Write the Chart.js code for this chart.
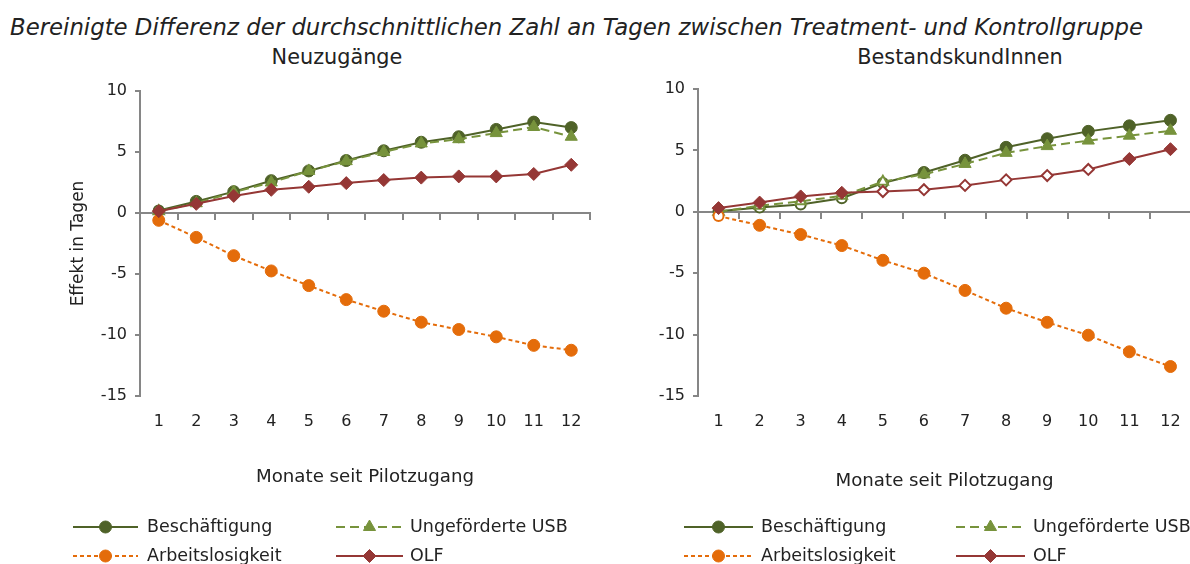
<!DOCTYPE html>
<html><head><meta charset="utf-8">
<script src="https://cdn.jsdelivr.net/npm/chart.js@4"></script>
<style>
html,body{margin:0;padding:0;background:#fff;overflow:hidden;width:1190px;height:564px;}
#wrap{position:relative;width:1190px;height:564px;overflow:hidden;}
.cv{position:absolute;top:0;width:600px;height:564px;}
#title{position:absolute;left:10px;top:14px;font-family:"DejaVu Sans";font-style:italic;font-size:22.8px;line-height:26px;color:#222;white-space:nowrap;}
.sub{position:absolute;top:45px;font-family:"DejaVu Sans";font-size:20.8px;line-height:24px;color:#222;white-space:nowrap;transform:translateX(-50%);}
</style></head><body>
<div id="wrap">
<div id="title">Bereinigte Differenz der durchschnittlichen Zahl an Tagen zwischen Treatment- und Kontrollgruppe</div>
<div class="sub" style="left:337px">Neuzugänge</div>
<div class="sub" style="left:960px">BestandskundInnen</div>
<div class="cv" style="left:0"><canvas id="c1" width="600" height="564"></canvas></div>
<div class="cv" style="left:600px"><canvas id="c2" width="600" height="564"></canvas></div>
</div>
<script>
// ---- data ----
const months = ['1','2','3','4','5','6','7','8','9','10','11','12'];
const seriesNames = ['Beschäftigung','Ungeförderte USB','Arbeitslosigkeit','OLF'];

const neuBesch = [0.2, 0.95, 1.75, 2.65, 3.45, 4.3, 5.1, 5.8, 6.25, 6.85, 7.45, 7.0];
const neuUSB   = [0.15, 0.8, 1.7, 2.5, 3.45, 4.25, 5.0, 5.7, 6.05, 6.55, 7.05, 6.25];
const neuAL    = [-0.6, -2.0, -3.5, -4.75, -5.95, -7.1, -8.05, -8.95, -9.55, -10.15, -10.85, -11.25];
const neuOLF   = [0.15, 0.75, 1.4, 1.9, 2.15, 2.45, 2.7, 2.9, 3.0, 3.0, 3.2, 3.95];
// 1 = significant (filled marker), 0 = not significant (hollow marker)
const neuBeschSig = [0,1,1,1,1,1,1,1,1,1,1,1];
const neuUSBSig   = [0,1,1,1,1,1,1,1,1,1,1,1];
const neuALSig    = [1,1,1,1,1,1,1,1,1,1,1,1];
const neuOLFSig   = [1,1,1,1,1,1,1,1,1,1,1,1];

const bestBesch = [0.05, 0.35, 0.6, 1.1, 2.35, 3.2, 4.2, 5.25, 5.95, 6.55, 7.0, 7.45];
const bestUSB   = [0.0, 0.5, 0.85, 1.3, 2.45, 3.05, 3.9, 4.8, 5.35, 5.8, 6.2, 6.6];
const bestAL    = [-0.35, -1.1, -1.85, -2.75, -3.95, -5.0, -6.4, -7.85, -9.0, -10.05, -11.4, -12.6];
const bestOLF   = [0.3, 0.75, 1.25, 1.55, 1.65, 1.8, 2.15, 2.6, 2.95, 3.45, 4.3, 5.1];
const bestBeschSig = [0,0,0,0,0,1,1,1,1,1,1,1];
const bestUSBSig   = [0,0,0,0,0,1,1,1,1,1,1,1];
const bestALSig    = [0,1,1,1,1,1,1,1,1,1,1,1];
const bestOLFSig   = [1,1,1,1,0,0,0,0,0,0,1,1];

const yTicksMin = -15, yTicksMax = 10, yStep = 5;

// ---- styles ----
const FONT = 'DejaVu Sans';
const TXT = '#222';
const AXIS = '#868686';
const COLORS = ['#4F6228', '#77933C', '#E46C0A', '#953735'];
const STYLES = ['circle', 'triangle', 'circle', 'rectRot'];
const DASHES = [[], [9,5], [4,3], []];
const RADII = [6, 7, 6, 6.5];
const ORDERS = [3, 2, 1, 0];

Chart.defaults.font.family = FONT;
Chart.defaults.color = TXT;

function mkDs(i, data, sig){
  const c = COLORS[i];
  return {
    label: seriesNames[i], data,
    borderColor: c, backgroundColor: c, borderWidth: 2, borderDash: DASHES[i],
    pointStyle: STYLES[i], pointRadius: sig.map(s => s ? RADII[i] : RADII[i]-1),
    pointHoverRadius: RADII[i],
    pointBackgroundColor: sig.map(s => s ? c : '#ffffff'),
    pointBorderColor: c, pointBorderWidth: sig.map(s => s ? 1 : 2),
    tension: 0, fill: false, order: ORDERS[i], xAxisID: 'x', yAxisID: 'y'
  };
}

function drawMarker(ctx, style, x, y, r){
  ctx.beginPath();
  if (style === 'circle') { ctx.arc(x, y, r, 0, Math.PI*2); }
  else if (style === 'triangle') {
    for (let k=0;k<3;k++){ const a = k*2*Math.PI/3; const px = x + Math.sin(a)*r, py = y - Math.cos(a)*r; k?ctx.lineTo(px,py):ctx.moveTo(px,py); }
    ctx.closePath();
  } else { ctx.moveTo(x-r,y); ctx.lineTo(x,y-r); ctx.lineTo(x+r,y); ctx.lineTo(x,y+r); ctx.closePath(); }
  ctx.fill(); ctx.stroke();
}

const legendPlugin = {
  id: 'lineLegend',
  afterDraw(chart, args, opts){
    const ctx = chart.ctx;
    ctx.save();
    chart.data.datasets.forEach((ds, i) => {
      const s = opts.slots[i];
      ctx.strokeStyle = ds.borderColor; ctx.fillStyle = ds.borderColor; ctx.lineWidth = 2;
      ctx.setLineDash(ds.borderDash || []);
      ctx.beginPath(); ctx.moveTo(s[0], s[3]); ctx.lineTo(s[1], s[3]); ctx.stroke();
      ctx.setLineDash([]); ctx.lineWidth = 1;
      drawMarker(ctx, STYLES[i], (s[0]+s[1])/2, s[3], RADII[i]);
      ctx.fillStyle = TXT; ctx.font = '17.5px "' + FONT + '"'; ctx.textBaseline = 'middle'; ctx.textAlign = 'left';
      ctx.fillText(ds.label, s[2], s[3]);
    });
    ctx.restore();
  }
};

function makeChart(id, sets, o){
  return new Chart(document.getElementById(id), {
    type: 'line',
    data: { labels: months, datasets: sets },
    plugins: [legendPlugin],
    options: {
      responsive: false, animation: false,
      layout: { padding: o.padding },
      plugins: { legend: { display: false }, tooltip: { enabled: false }, title: { display: false },
                 lineLegend: { slots: o.slots } },
      scales: {
        y: {
          position: 'left', min: yTicksMin, max: yTicksMax,
          ticks: { stepSize: yStep, font: { size: 16 }, color: TXT, padding: 8 },
          grid: { drawOnChartArea: false, drawTicks: true, tickLength: 5, color: AXIS, lineWidth: 2 },
          border: { display: true, color: AXIS, width: 2 },
          title: { display: !!o.yTitle, text: o.yTitle || '', font: { size: 17 }, color: TXT, padding: { top: 68, bottom: 0 } },
          afterFit(s){ s.width = o.yWidth; }
        },
        x: {
          type: 'category', axis: 'x', position: { y: 0 }, offset: true,
          ticks: { display: false },
          grid: { offset: true, drawOnChartArea: false, drawTicks: true, tickLength: 6, color: AXIS, lineWidth: 2 },
          border: { display: true, color: AXIS, width: 2 }
        },
        xl: {
          type: 'category', axis: 'x', position: 'bottom', offset: true,
          grid: { display: false, drawTicks: false }, border: { display: false },
          ticks: { font: { size: 16 }, color: TXT, padding: 16, maxRotation: 0, autoSkip: false },
          title: { display: true, text: 'Monate seit Pilotzugang', font: { size: 18.2 }, color: TXT, padding: { top: 0, bottom: 4 } },
          afterFit(s){ s.height = o.xHeight; }
        }
      }
    }
  });
}

makeChart('c1', [mkDs(0, neuBesch, neuBeschSig), mkDs(1, neuUSB, neuUSBSig), mkDs(2, neuAL, neuALSig), mkDs(3, neuOLF, neuOLFSig)], {
  padding: { top: 91, bottom: 72, left: 0, right: 10 }, yWidth: 140, xHeight: 96, yTitle: 'Effekt in Tagen',
  slots: [[73,138,147,527],[336,403,410,527],[73,138,147,556],[336,403,410,556]]
});
makeChart('c2', [mkDs(0, bestBesch, bestBeschSig), mkDs(1, bestUSB, bestUSBSig), mkDs(2, bestAL, bestALSig), mkDs(3, bestOLF, bestOLFSig)], {
  padding: { top: 89, bottom: 68, left: 0, right: 4 }, yWidth: 98, xHeight: 100, yTitle: '',
  slots: [[84,153,161,527],[356,425,433,527],[84,153,161,556],[356,425,433,556]]
});
</script>
</body></html>
